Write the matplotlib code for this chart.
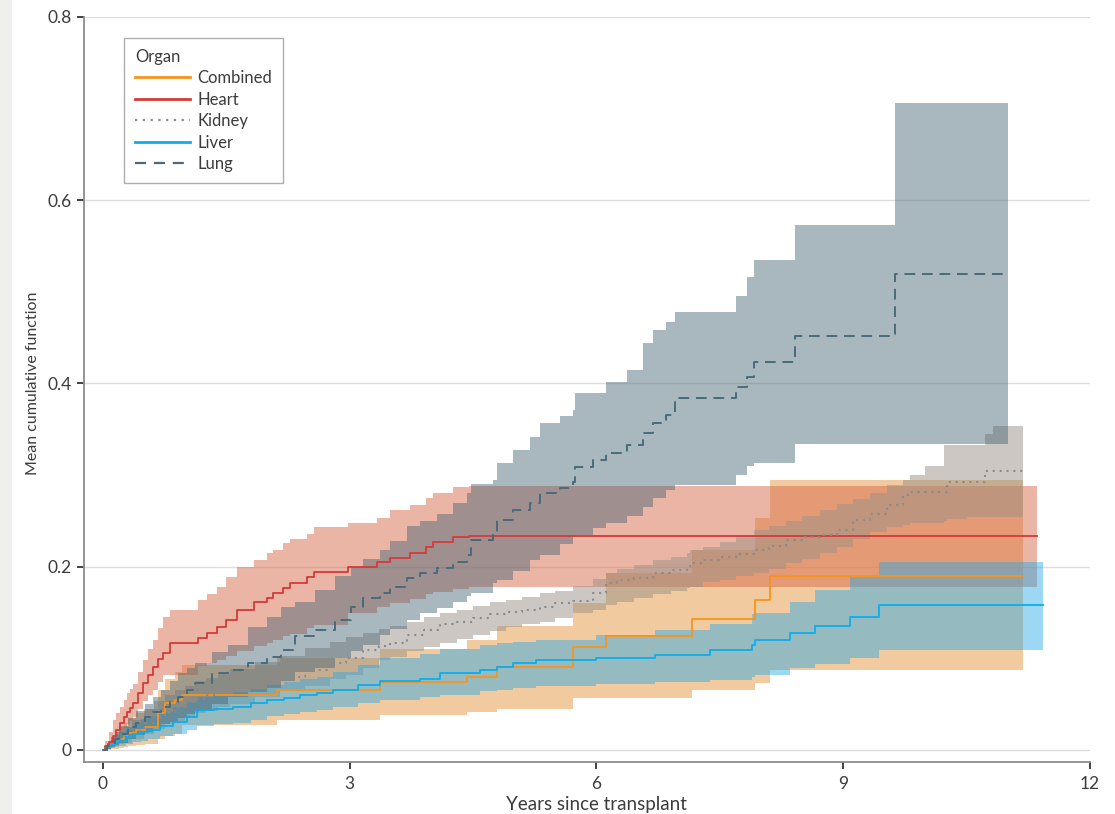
import matplotlib
matplotlib.use("Agg")
import matplotlib.pyplot as plt
from matplotlib.lines import Line2D
from matplotlib.patches import Rectangle

# ---------------- data ----------------
heart_t = [0, 0.03, 0.07, 0.12, 0.16, 0.21, 0.25, 0.29, 0.33, 0.37, 0.43, 0.49, 0.55, 0.61,
           0.67, 0.73, 0.81, 1.16, 1.26, 1.38, 1.50, 1.63, 1.83, 1.99, 2.07, 2.19, 2.27, 2.48,
           2.56, 2.98, 3.33, 3.49, 3.73, 3.93, 4.01, 4.26, 4.45, 11.35]
heart_mean = [0, 0.004, 0.009, 0.015, 0.022, 0.029, 0.036, 0.042, 0.046, 0.051, 0.062, 0.073,
              0.082, 0.091, 0.099, 0.106, 0.117, 0.122, 0.128, 0.134, 0.142, 0.153, 0.162,
              0.166, 0.171, 0.177, 0.182, 0.189, 0.194, 0.200, 0.205, 0.210, 0.215, 0.222,
              0.227, 0.233, 0.234, 0.234]
heart_lo = [0, 0.001, 0.004, 0.008, 0.013, 0.019, 0.024, 0.028, 0.032, 0.036, 0.045, 0.054,
            0.060, 0.066, 0.074, 0.082, 0.082, 0.092, 0.095, 0.098, 0.103, 0.108, 0.113,
            0.117, 0.120, 0.124, 0.127, 0.133, 0.136, 0.150, 0.156, 0.160, 0.165, 0.170,
            0.172, 0.176, 0.178, 0.178]
heart_hi = [0, 0.010, 0.020, 0.033, 0.040, 0.047, 0.055, 0.062, 0.067, 0.072, 0.085, 0.098,
            0.110, 0.120, 0.133, 0.145, 0.153, 0.164, 0.170, 0.178, 0.189, 0.200, 0.207,
            0.215, 0.218, 0.226, 0.230, 0.236, 0.243, 0.248, 0.253, 0.262, 0.267, 0.275,
            0.280, 0.287, 0.288, 0.288]

lung_t = [0, 0.05, 0.1, 0.15, 0.2, 0.3, 0.4, 0.51, 0.61, 0.71, 0.81, 0.91, 1.02, 1.12, 1.32,
          1.52, 1.76, 2.0, 2.17, 2.33, 2.58, 2.82, 3.02, 3.16, 3.37, 3.49, 3.69, 3.85, 4.06,
          4.26, 4.42, 4.48, 4.74, 4.79, 4.99, 5.19, 5.31, 5.56, 5.72, 5.74, 5.96, 6.12, 6.37,
          6.57, 6.69, 6.85, 6.95, 7.54, 7.7, 7.83, 7.91, 8.41, 9.63, 11.0]
lung_mean = [0, 0.004, 0.008, 0.012, 0.017, 0.025, 0.030, 0.036, 0.041, 0.047, 0.052, 0.058,
             0.065, 0.073, 0.084, 0.087, 0.095, 0.102, 0.109, 0.124, 0.131, 0.142, 0.156,
             0.166, 0.171, 0.178, 0.188, 0.193, 0.199, 0.205, 0.213, 0.229, 0.236, 0.251,
             0.262, 0.270, 0.280, 0.286, 0.292, 0.309, 0.316, 0.324, 0.333, 0.346, 0.357,
             0.366, 0.384, 0.384, 0.396, 0.407, 0.423, 0.452, 0.520, 0.520]
lung_lo = [0, 0.001, 0.003, 0.005, 0.008, 0.012, 0.016, 0.020, 0.024, 0.028, 0.031, 0.035,
           0.039, 0.043, 0.050, 0.058, 0.063, 0.068, 0.075, 0.085, 0.090, 0.100, 0.108, 0.115,
           0.125, 0.132, 0.142, 0.149, 0.155, 0.162, 0.168, 0.171, 0.182, 0.185, 0.195,
           0.207, 0.213, 0.225, 0.232, 0.235, 0.242, 0.248, 0.255, 0.265, 0.275, 0.284,
           0.289, 0.289, 0.300, 0.310, 0.313, 0.334, 0.334, 0.334]
lung_hi = [0, 0.008, 0.014, 0.020, 0.026, 0.035, 0.043, 0.050, 0.058, 0.065, 0.075, 0.084,
           0.090, 0.095, 0.107, 0.115, 0.134, 0.145, 0.156, 0.162, 0.175, 0.190, 0.200, 0.208,
           0.218, 0.228, 0.244, 0.250, 0.258, 0.270, 0.280, 0.290, 0.295, 0.313, 0.327,
           0.342, 0.357, 0.364, 0.371, 0.390, 0.390, 0.402, 0.415, 0.444, 0.458, 0.467,
           0.478, 0.478, 0.495, 0.516, 0.535, 0.573, 0.706, 0.706]

kidney_t = [0, 0.05, 0.1, 0.15, 0.2, 0.25, 0.35, 0.5, 0.62, 0.75, 0.87, 1.0, 1.12, 1.25, 1.4,
            1.54, 1.85, 2.15, 2.45, 2.76, 2.95, 3.16, 3.35, 3.49, 3.69, 3.9, 4.1, 4.3, 4.5,
            4.7, 4.9, 5.1, 5.31, 5.5, 5.72, 5.96, 6.12, 6.25, 6.45, 6.69, 6.9, 7.1, 7.14,
            7.3, 7.5, 7.7, 7.91, 8.1, 8.31, 8.5, 8.72, 8.92, 9.12, 9.33, 9.53, 9.73, 9.81,
            10.0, 10.22, 10.26, 10.5, 10.72, 10.82, 11.19]
kidney_mean = [0, 0.003, 0.006, 0.009, 0.012, 0.015, 0.021, 0.030, 0.036, 0.042, 0.047,
               0.052, 0.056, 0.060, 0.065, 0.069, 0.075, 0.080, 0.087, 0.095, 0.100, 0.109,
               0.114, 0.117, 0.126, 0.131, 0.137, 0.140, 0.144, 0.148, 0.151, 0.153, 0.156,
               0.160, 0.163, 0.171, 0.182, 0.186, 0.188, 0.193, 0.196, 0.200, 0.204, 0.207,
               0.211, 0.214, 0.218, 0.223, 0.229, 0.232, 0.235, 0.240, 0.251, 0.258, 0.267,
               0.278, 0.282, 0.282, 0.282, 0.292, 0.292, 0.305, 0.305, 0.305]
kidney_lo = [0, 0.001, 0.003, 0.004, 0.006, 0.008, 0.012, 0.018, 0.023, 0.028, 0.032, 0.036,
             0.040, 0.043, 0.047, 0.050, 0.058, 0.064, 0.070, 0.077, 0.082, 0.090, 0.098,
             0.102, 0.108, 0.112, 0.117, 0.121, 0.126, 0.130, 0.134, 0.137, 0.140, 0.144,
             0.149, 0.153, 0.158, 0.162, 0.166, 0.170, 0.174, 0.177, 0.178, 0.183, 0.186,
             0.190, 0.193, 0.198, 0.204, 0.208, 0.215, 0.222, 0.230, 0.238, 0.243, 0.246,
             0.248, 0.248, 0.250, 0.252, 0.254, 0.254, 0.254, 0.254]
kidney_hi = [0, 0.006, 0.011, 0.016, 0.020, 0.025, 0.033, 0.045, 0.053, 0.060, 0.065, 0.070,
             0.075, 0.079, 0.084, 0.088, 0.096, 0.103, 0.111, 0.118, 0.123, 0.128, 0.132,
             0.135, 0.140, 0.145, 0.149, 0.153, 0.157, 0.161, 0.164, 0.167, 0.171, 0.174,
             0.179, 0.187, 0.193, 0.198, 0.202, 0.207, 0.211, 0.215, 0.218, 0.222, 0.227,
             0.234, 0.240, 0.245, 0.250, 0.255, 0.262, 0.268, 0.274, 0.280, 0.289, 0.295,
             0.300, 0.310, 0.333, 0.333, 0.333, 0.345, 0.354, 0.354]

combined_t = [0, 0.05, 0.1, 0.15, 0.2, 0.25, 0.3, 0.4, 0.51, 0.67, 0.75, 0.88, 0.96, 2.12,
              3.37, 4.42, 4.79, 5.72, 6.12, 7.16, 7.93, 8.11, 11.19]
combined_mean = [0, 0.003, 0.006, 0.009, 0.012, 0.016, 0.019, 0.022, 0.025, 0.040, 0.051,
                 0.055, 0.060, 0.066, 0.074, 0.080, 0.091, 0.112, 0.124, 0.143, 0.164,
                 0.190, 0.190]
combined_lo = [0, 0.0, 0.001, 0.001, 0.002, 0.003, 0.004, 0.005, 0.007, 0.012, 0.015, 0.018,
               0.027, 0.033, 0.038, 0.042, 0.045, 0.057, 0.057, 0.065, 0.073, 0.087, 0.087]
combined_hi = [0, 0.008, 0.014, 0.019, 0.025, 0.030, 0.035, 0.040, 0.045, 0.065, 0.078,
               0.085, 0.093, 0.100, 0.110, 0.120, 0.135, 0.160, 0.193, 0.218, 0.253, 0.295,
               0.295]

liver_t = [0, 0.05, 0.1, 0.15, 0.2, 0.28, 0.37, 0.46, 0.55, 0.69, 0.85, 1.02, 1.14, 1.35,
           1.58, 1.8, 1.99, 2.2, 2.4, 2.6, 2.8, 3.1, 3.37, 3.85, 4.1, 4.58, 4.79, 4.99, 5.27,
           6.0, 6.71, 7.38, 7.89, 7.93, 8.35, 8.66, 9.08, 9.43, 11.43]
liver_mean = [0, 0.003, 0.005, 0.008, 0.010, 0.014, 0.018, 0.020, 0.022, 0.026, 0.031,
              0.036, 0.044, 0.045, 0.047, 0.051, 0.055, 0.057, 0.060, 0.062, 0.065, 0.071,
              0.075, 0.078, 0.084, 0.087, 0.091, 0.095, 0.098, 0.100, 0.104, 0.109, 0.115,
              0.120, 0.128, 0.135, 0.145, 0.158, 0.158]
liver_lo = [0, 0.001, 0.002, 0.003, 0.004, 0.006, 0.009, 0.010, 0.012, 0.015, 0.018, 0.022,
            0.026, 0.028, 0.030, 0.033, 0.037, 0.039, 0.042, 0.044, 0.047, 0.051, 0.055,
            0.058, 0.060, 0.064, 0.066, 0.068, 0.070, 0.072, 0.074, 0.076, 0.080, 0.082,
            0.090, 0.094, 0.100, 0.109, 0.109]
liver_hi = [0, 0.006, 0.011, 0.016, 0.020, 0.025, 0.030, 0.034, 0.037, 0.042, 0.047, 0.052,
            0.058, 0.060, 0.063, 0.067, 0.071, 0.074, 0.077, 0.080, 0.085, 0.093, 0.100,
            0.105, 0.110, 0.115, 0.117, 0.118, 0.120, 0.125, 0.131, 0.138, 0.148, 0.150,
            0.162, 0.175, 0.189, 0.205, 0.205]

x_ticks = [0, 3, 6, 9, 12]
y_ticks = [0, 0.2, 0.4, 0.6, 0.8]
y_ticklabels = ["0", "0.2", "0.4", "0.6", "0.8"]
legend_labels = ["Combined", "Heart", "Kidney", "Liver", "Lung"]

# ---------------- styling ----------------
plt.rcParams["font.family"] = ["Lato", "DejaVu Sans"]
TXT = "#3c3c3c"

W, H = 1115, 814
fig = plt.figure(figsize=(W / 100, H / 100), dpi=100)
fig.patch.set_facecolor("white")
fig.add_artist(Rectangle((0, 0), 12 / W, 1, transform=fig.transFigure,
                         facecolor="#efefed", edgecolor="none", zorder=0))

L, R, B, T = 84, 1090, 762, 17
ax = fig.add_axes([L / W, 1 - B / H, (R - L) / W, (B - T) / H])
ax.set_xlim(-0.231, 12)
ax.set_ylim(-0.0131, 0.8)

# fills
fill_specs = [
    (combined_t, combined_lo, combined_hi, "#E59741", 0.5),
    (heart_t, heart_lo, heart_hi, "#D96D4D", 0.5),
    (kidney_t, kidney_lo, kidney_hi, "#9B9187", 0.5),
    (liver_t, liver_lo, liver_hi, "#25A8E7", 0.45),
    (lung_t, lung_lo, lung_hi, "#4A6677", 0.47),
]
for t, lo, hi, c, a in fill_specs:
    ax.fill_between(t, lo, hi, step="post", facecolor=c, alpha=a, linewidth=0, zorder=2)

c_comb, c_heart, c_kid, c_liv, c_lung = "#F7941D", "#D43A3A", "#8A8A8A", "#0BADEC", "#4A6B7A"
ax.plot(combined_t, combined_mean, drawstyle="steps-post", color=c_comb, lw=1.3, zorder=4)
ax.plot(heart_t, heart_mean, drawstyle="steps-post", color=c_heart, lw=1.3, zorder=4)
ax.plot(kidney_t, kidney_mean, drawstyle="steps-post", color=c_kid, lw=1.5,
        linestyle=(0, (1, 2.3)), zorder=4)
ax.plot(liver_t, liver_mean, drawstyle="steps-post", color=c_liv, lw=1.3, zorder=4)
ax.plot(lung_t, lung_mean, drawstyle="steps-post", color=c_lung, lw=1.4,
        linestyle=(0, (5.5, 3.5)), zorder=4)

# axes decoration
for s in ["top", "right"]:
    ax.spines[s].set_visible(False)
for s in ["left", "bottom"]:
    ax.spines[s].set_color("#8c8c8c")
    ax.spines[s].set_linewidth(1.3)
ax.set_xticks(x_ticks)
ax.set_xticklabels([str(v) for v in x_ticks])
ax.set_yticks(y_ticks)
ax.set_yticklabels(y_ticklabels)
ax.tick_params(axis="both", direction="out", length=5, width=1.3, color="#333333",
               labelcolor=TXT, labelsize=12.5)
ax.tick_params(axis="x", pad=5)
ax.tick_params(axis="y", pad=4)
ax.yaxis.grid(True, color="#dedede", linewidth=1.0, zorder=0)
ax.set_axisbelow(True)

ax.set_xlabel("Years since transplant", fontsize=13.5, color=TXT)
ax.xaxis.set_label_coords((6 + 0.231) / 12.231, -0.046)
ax.set_ylabel("Mean cumulative function", fontsize=11.5, color=TXT)
ax.yaxis.set_label_coords(-0.0435, (0.4 + 0.0131) / 0.8131)

handles = [
    Line2D([], [], color=c_comb, lw=2.0),
    Line2D([], [], color=c_heart, lw=2.0),
    Line2D([], [], color=c_kid, lw=1.6, linestyle=(0, (1, 2.5))),
    Line2D([], [], color=c_liv, lw=2.0),
    Line2D([], [], color=c_lung, lw=1.6, linestyle=(0, (5, 3.5))),
]
leg = ax.legend(handles, legend_labels, title="Organ", loc="upper left",
                bbox_to_anchor=(124 / W, 1 - 38 / H), bbox_transform=fig.transFigure,
                borderaxespad=0, fontsize=12, title_fontsize=12, frameon=True,
                fancybox=False, edgecolor="#9a9a9a", handlelength=3.3, handletextpad=0.45,
                labelspacing=0.33, borderpad=0.65, alignment="left", labelcolor=TXT)
leg.get_frame().set_linewidth(1.0)
leg.get_title().set_color(TXT)
leg.set_zorder(10)

fig.savefig("out.png", dpi=100)
